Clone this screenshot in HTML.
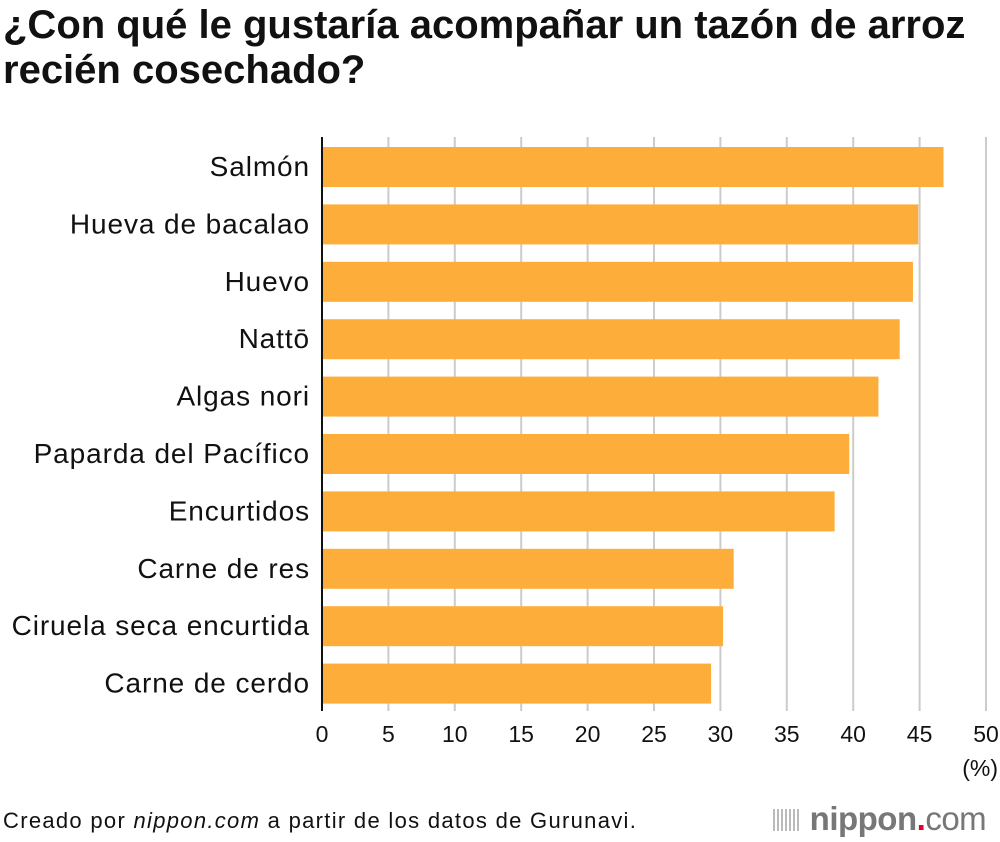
<!DOCTYPE html>
<html><head><meta charset="utf-8"><style>
body{margin:0;background:#fff;width:1000px;height:842px;overflow:hidden;font-family:"Liberation Sans",sans-serif;}
h1{position:absolute;left:3px;top:3px;margin:0;font-size:40px;line-height:45px;font-weight:bold;color:#111;letter-spacing:0px;white-space:nowrap}
svg{position:absolute;left:0;top:0}
</style></head><body>
<h1>¿Con qué le gustaría acompañar un tazón de arroz<br>recién cosechado?</h1>
<svg id="c" width="1000" height="842"></svg>
<script>
const categories=["Salmón","Hueva de bacalao","Huevo","Nattō","Algas nori","Paparda del Pacífico","Encurtidos","Carne de res","Ciruela seca encurtida","Carne de cerdo"];
const values=[46.8,44.9,44.5,43.5,41.9,39.7,38.6,31.0,30.2,29.3];
const ticks=[0,5,10,15,20,25,30,35,40,45,50];
const svg=document.getElementById('c');const NS='http://www.w3.org/2000/svg';
const x0=322,x1=986,yTop=137,yBot=711;
const x=v=>x0+(v-0)/(50-0)*(x1-x0);
const pitch=(yBot-yTop)/categories.length;
function mk(t,a){const e=document.createElementNS(NS,t);for(const k in a)e.setAttribute(k,a[k]);svg.appendChild(e);return e;}
ticks.forEach(t=>{
 if(t>0){const g=mk('line',{x1:x(t),x2:x(t),y1:yTop,y2:yBot,stroke:'#ccc','stroke-width':2});
 
 }
 const l=mk('text',{x:x(t),y:742,'text-anchor':'middle','font-size':23,fill:'#111'});l.textContent=t;
 
 
});
categories.forEach((c,i)=>{
 const y=yTop+i*pitch+10;
 const b=mk('rect',{x:x0,y:y,width:x(values[i])-x0,height:40,fill:'#fdae3a'});
 
 
 const t=mk('text',{x:310,y:y+29,'text-anchor':'end','font-size':28,'letter-spacing':0.9,fill:'#111'});t.textContent=c;
 
 
});
const ax=mk('line',{x1:x0,x2:x0,y1:yTop,y2:yBot,stroke:'#111','stroke-width':2});


const u=mk('text',{x:998,y:776,'text-anchor':'end','font-size':23,fill:'#111'});u.textContent='(%)';


</script>
<div style="position:absolute;left:3px;top:808px;font-size:22px;letter-spacing:1.3px;color:#111;white-space:nowrap">Creado por <i>nippon.com</i> a partir de los datos de Gurunavi.</div>
<div style="position:absolute;left:773px;top:800px;font-size:33px;color:#777;font-weight:bold;letter-spacing:-0.5px;white-space:nowrap">
<span style="display:inline-block;width:28px;height:22px;vertical-align:-1px;background:repeating-linear-gradient(90deg,#bbb 0 2px,transparent 2px 4px)"></span> nippon<span style="color:#e4002b">.</span><span style="font-weight:normal">com</span></div>
</body></html>
